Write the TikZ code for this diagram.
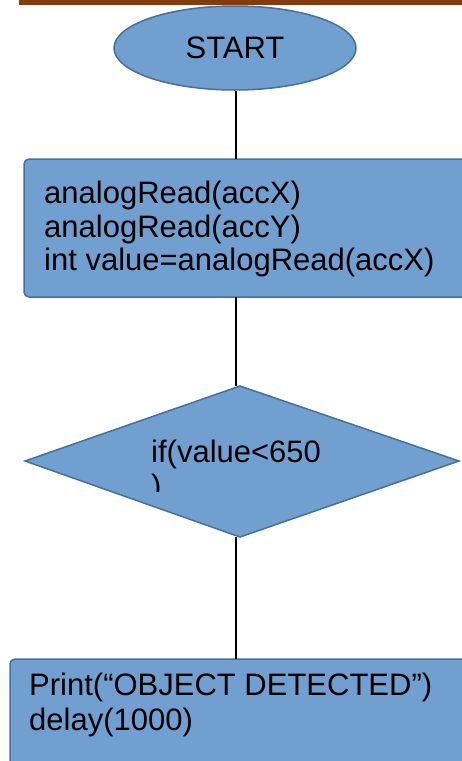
\documentclass[tikz,border=0pt]{standalone}
\usepackage{fontspec}
\setmainfont{Liberation Sans}
\usetikzlibrary{shapes.geometric}
\definecolor{boxfill}{HTML}{719FD0}
\definecolor{boxline}{HTML}{41719C}
\definecolor{barbrown}{HTML}{843C0C}
\tikzset{
  shapeline/.style={draw=boxline, line width=1.5pt, fill=boxfill},
  flowbox/.style={shapeline, rounded corners=5pt},
  txt/.style={inner sep=0pt, anchor=base west, font=\fontsize{31}{33}\selectfont},
  link/.style={draw=black, line width=1.3pt}
}
\begin{document}
\begin{tikzpicture}[x=1pt,y=-1pt]
\useasboundingbox (0,0) rectangle (462,761);
\clip (0,0) rectangle (462,761);
% top bar
\fill[barbrown] (19,-2) rectangle (470,5);
% start ellipse
\node[ellipse, shapeline, minimum width=242pt, minimum height=84pt, inner sep=0pt] (start) at (235,48) {};
\node[font=\fontsize{31}{33}\selectfont, inner sep=0pt] (starttxt) at (235,48) {START};
% box 1
\coordinate (b1nw) at (24,159);
\coordinate (b1se) at (480,297);
\draw[flowbox] (b1nw) rectangle (b1se);
\coordinate (b1top) at (236,159);
\coordinate (b1bot) at (236,297);
\node[txt] (l1) at (44,203) {analogRead(accX)};
\node[txt] (l2) at (44,237) {analogRead(accY)};
\node[txt] (l3) at (44,270) {int value=analogRead(accX)};
% diamond
\coordinate (dl) at (25,461);
\coordinate (dt) at (240,386);
\coordinate (dr) at (459,461);
\coordinate (db) at (240,537);
\draw[shapeline, line join=miter] (dl) -- (dt) -- (dr) -- (db) -- cycle;
\node[txt] (cond) at (151,462) {if(value<650};
\begin{scope}
\clip (140,470) rectangle (200,491);
\node[txt] (cond2) at (151,496) {)};
\end{scope}
% box 2
\coordinate (b2nw) at (10,659);
\coordinate (b2se) at (480,790);
\draw[flowbox] (b2nw) rectangle (b2se);
\coordinate (b2top) at (236,659);
\node[txt] (p1) at (29,695) {Print(“OBJECT DETECTED”)};
\node[txt] (p2) at (29,730) {delay(1000)};
% connectors
\draw[link] (start.south -| b1top) -- (b1top);
\draw[link] (b1bot) -- (b1bot |- dt);
\draw[link] (db -| b2top) -- (b2top);
\end{tikzpicture}
\end{document}
